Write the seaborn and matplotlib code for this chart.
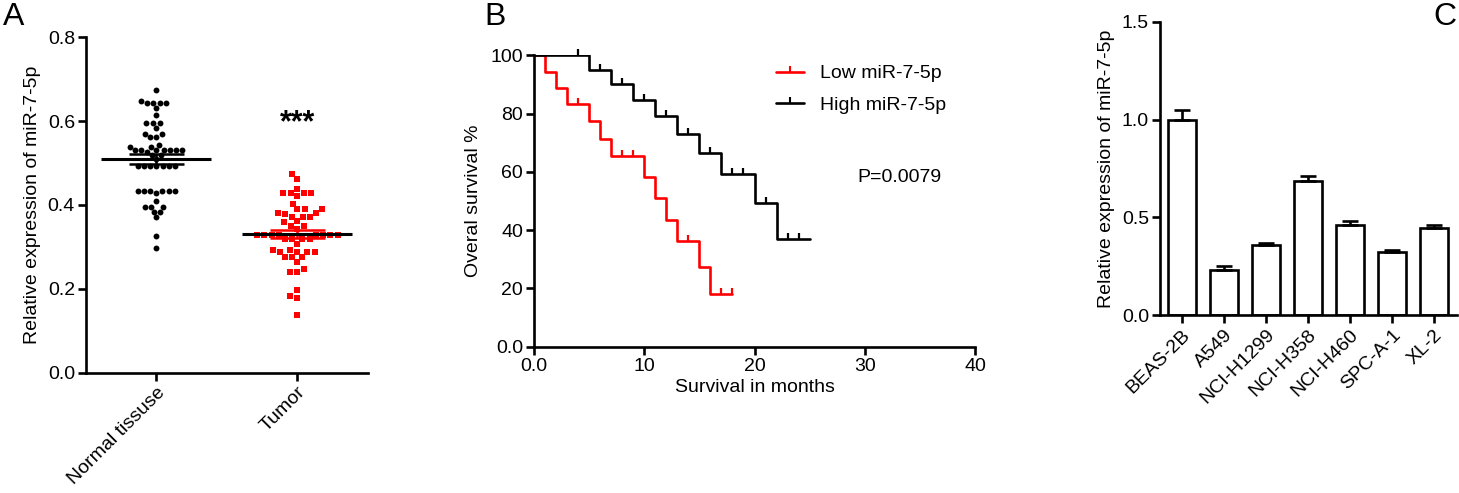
import numpy as np
import pandas as pd
import matplotlib
matplotlib.use('Agg')
import matplotlib.pyplot as plt
from matplotlib.lines import Line2D
import seaborn as sns

# ---- Panel A: relative expression, normal vs tumor ----
groups = ['Normal tissuse', 'Tumor']
normal_vals = ([0.675, 0.649] + [0.643] * 4 + [0.631, 0.614] + [0.595] * 3 + [0.584]
               + [0.570] * 2 + [0.563] * 2 + [0.544] + [0.539] * 2 + [0.531] * 7 + [0.526]
               + [0.518] * 2 + [0.509] + [0.492] * 7 + [0.432] * 6 + [0.428, 0.410]
               + [0.395] * 3 + [0.383] * 2 + [0.370, 0.325, 0.298])
tumor_vals = ([0.473, 0.461, 0.439] + [0.428] * 4 + [0.421, 0.403] + [0.390] * 3
              + [0.381] * 2 + [0.379] + [0.372] * 3 + [0.361, 0.358] + [0.350] * 2 + [0.343]
              + [0.328] * 8 + [0.319] * 4 + [0.307] + [0.293] * 2 + [0.287] * 4
              + [0.275] * 3 + [0.263, 0.247] + [0.239] * 2 + [0.198, 0.183, 0.178, 0.138])

# ---- Panel B: Kaplan-Meier steps (months, survival %) ----
low_times = [0, 1, 2, 3, 5, 6, 7, 10, 11, 12, 13, 15, 16, 18]
low_surv = [100, 94.4, 88.9, 83.3, 77.4, 71.4, 65.5, 58.2, 50.9, 43.6, 36.4, 27.3, 18.2, 18.2]
low_censor = [4, 8, 9, 14, 17, 18]
high_times = [0, 5, 7, 9, 11, 13, 15, 17, 20, 22, 25]
high_surv = [100, 95.0, 90.0, 84.7, 79.1, 72.9, 66.4, 59.1, 49.2, 36.9, 36.9]
high_censor = [4, 6, 8, 10, 12, 14, 16, 18, 19, 21, 23, 24]
p_text = 'P=0.0079'

# ---- Panel C: cell lines ----
cell_lines = ['BEAS-2B', 'A549', 'NCI-H1299', 'NCI-H358', 'NCI-H460', 'SPC-A-1', 'XL-2']
cell_means = [1.00, 0.231, 0.357, 0.687, 0.463, 0.321, 0.446]
cell_sem = [0.048, 0.022, 0.010, 0.026, 0.017, 0.012, 0.013]

FS = 14
sns.set_theme(style='ticks')
plt.rcParams['font.family'] = ['Liberation Sans', 'DejaVu Sans']
plt.rcParams.update({
    'font.size': FS,
    'axes.linewidth': 1.9,
    'xtick.major.width': 1.9, 'ytick.major.width': 1.9,
    'xtick.major.size': 6, 'ytick.major.size': 6,
    'xtick.major.pad': 2, 'ytick.major.pad': 2,
    'xtick.labelsize': FS, 'ytick.labelsize': FS,
    'axes.labelsize': FS,
    'xtick.color': 'black', 'ytick.color': 'black',
    'axes.edgecolor': 'black', 'text.color': 'black', 'axes.labelcolor': 'black',
})

W, H = 1459, 493
fig = plt.figure(figsize=(W / 100, H / 100), dpi=100)


def ax_px(left, top, right, bottom):
    return fig.add_axes([left / W, 1 - bottom / H, (right - left) / W, (bottom - top) / H])


# ---------------- A ----------------
axA = ax_px(86, 37.3, 367.7, 372.5)
dfA = pd.DataFrame({'group': [groups[0]] * len(normal_vals) + [groups[1]] * len(tumor_vals),
                    'value': normal_vals + tumor_vals})
sns.swarmplot(data=dfA[dfA.group == groups[0]], x='group', y='value', order=groups,
              color='black', marker='o', size=5.6, linewidth=0, ax=axA)
sns.swarmplot(data=dfA[dfA.group == groups[1]], x='group', y='value', order=groups,
              color='#ff0000', marker='s', size=5.0, linewidth=0, ax=axA)
# shrink the drawn markers a little so the swarm keeps some air between points
axA.collections[0].set_sizes([18])
axA.collections[1].set_sizes([19])
for i, (vals, col) in enumerate([(normal_vals, 'black'), (tumor_vals, '#ff0000')]):
    v = np.array(vals)
    m = v.mean()
    se = v.std(ddof=1) / np.sqrt(len(v))
    axA.hlines([m - se, m + se], i - 0.195, i + 0.195, color=col, lw=1.8, zorder=5)
    axA.vlines(i, m - se, m + se, color=col, lw=1.8, zorder=5)
    axA.hlines(m, i - 0.39, i + 0.39, color='black', lw=2.2, zorder=6)
axA.text(1, 0.594, '***', ha='center', va='center', fontsize=22, fontweight='bold')
axA.set_xlim(-0.5, 1.5)
axA.set_ylim(0, 0.8)
axA.set_yticks([0, 0.2, 0.4, 0.6, 0.8])
axA.set_yticklabels(['0.0', '0.2', '0.4', '0.6', '0.8'])
axA.set_xlabel('')
axA.set_ylabel('Relative expression of miR-7-5p', labelpad=5)
axA.set_xticks([0, 1])
axA.set_xticklabels(groups, rotation=45, ha='right', rotation_mode='anchor')
sns.despine(ax=axA)

# ---------------- B ----------------
axB = ax_px(534, 55.2, 975, 346.7)


def surv_at(times, surv, t):
    idx = np.searchsorted(times, t, side='right') - 1
    return np.array(surv)[idx]


for times, surv, cens, col in [(low_times, low_surv, low_censor, '#ff0000'),
                               (high_times, high_surv, high_censor, 'black')]:
    sns.lineplot(x=times, y=surv, drawstyle='steps-post', color=col, lw=1.9, ax=axB,
                 estimator=None, sort=False)
    axB.plot(cens, surv_at(times, surv, cens), ls='none', marker=2, color=col,
             markersize=4, mew=1.6, clip_on=False)
axB.set_xlim(0, 40)
axB.set_ylim(0, 100)
axB.set_xticks([0, 10, 20, 30, 40])
axB.set_xticklabels(['0.0', '10', '20', '30', '40'])
axB.set_yticks([0, 20, 40, 60, 80, 100])
axB.set_yticklabels(['0.0', '20', '40', '60', '80', '100'])
axB.set_xlabel('Survival in months', labelpad=3)
axB.set_ylabel('Overal survival %', labelpad=6)
sns.despine(ax=axB)
handles = [Line2D([], [], color='#ff0000', lw=1.9, marker=2, markersize=4, mew=1.5),
           Line2D([], [], color='black', lw=1.9, marker=2, markersize=4, mew=1.5)]
fig.legend(handles, ['Low miR-7-5p', 'High miR-7-5p'], loc='upper left',
           bbox_to_anchor=(766 / W, 1 - 55 / H), frameon=False, borderpad=0,
           handlelength=1.45, handletextpad=0.85, labelspacing=0.7, fontsize=FS)
axB.text(29.3, 57.9, p_text, ha='left', va='center', fontsize=FS)

# ---------------- C ----------------
axC = ax_px(1160, 21.7, 1456.7, 315.3)
dfC = pd.DataFrame({'line': cell_lines, 'mean': cell_means, 'sem': cell_sem})
sns.barplot(data=dfC, x='line', y='mean', order=cell_lines, color='white', edgecolor='black',
            linewidth=1.9, width=0.67, errorbar=None, ax=axC)
axC.errorbar(np.arange(len(cell_lines)), dfC['mean'], yerr=[np.zeros(len(cell_sem)), dfC['sem']],
             fmt='none', ecolor='black', elinewidth=1.9, capsize=6, capthick=1.9)
axC.set_xlim(-0.52, 6.54)
axC.set_ylim(0, 1.5)
axC.set_yticks([0, 0.5, 1.0, 1.5])
axC.set_yticklabels(['0.0', '0.5', '1.0', '1.5'])
axC.set_xlabel('')
axC.set_ylabel('Relative expression of miR-7-5p', labelpad=5)
axC.set_xticks(range(len(cell_lines)))
axC.set_xticklabels(cell_lines, rotation=45, ha='right', rotation_mode='anchor')
sns.despine(ax=axC)

# panel letters
fig.text(3 / W, 1 - 2 / H, 'A', fontsize=23, va='top', ha='left')
fig.text(484 / W, 1 - 2 / H, 'B', fontsize=23, va='top', ha='left')
fig.text(1433 / W, 1 - 2 / H, 'C', fontsize=23, va='top', ha='left')

fig.savefig('out.png', dpi=100)
